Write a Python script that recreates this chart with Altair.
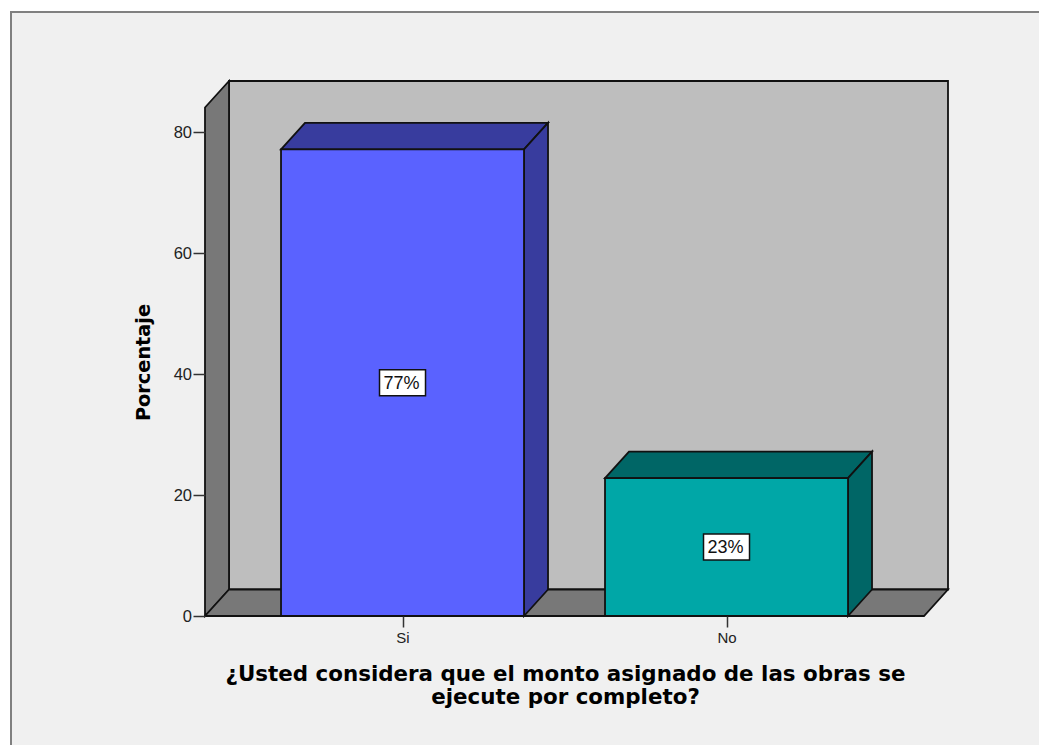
import altair as alt
import pandas as pd

categories = ["Si", "No"]
values = [77.2, 22.8]
front_colors = ["#5a62ff", "#00a7a7"]
shade_colors = ["#383c9e", "#006666"]
y_ticks = [0, 20, 40, 60, 80]

PLOT_W, PLOT_H = 743, 535
Y_MAX = 88.52
X_MIN, X_MAX = -0.6096, 1.6836
DX = 24 / 324
DY = 26.5 / 6.044
HALF = 0.375
X_FRONT_RIGHT = X_MAX - DX
Y_FRONT_TOP = Y_MAX - DY

xs = alt.Scale(domain=[X_MIN, X_MAX], nice=False, zero=False)
ys = alt.Scale(domain=[0, Y_MAX], nice=False, zero=False)
STROKE = dict(stroke="#111111", strokeWidth=1.8)

xax = alt.Axis(values=[0, 1], labelExpr="datum.value == 0 ? 'Si' : 'No'", grid=False, domain=False,
               tickSize=11, tickColor="#333333", tickWidth=1.5, labelFont="Liberation Sans",
               labelFontSize=15, labelColor="#222222", labelPadding=3, labelFlush=False,
               title=["¿Usted considera que el monto asignado de las obras se", "ejecute por completo?"],
               titleFont="DejaVu Sans", titleFontSize=21.4, titleFontWeight="bold", titleColor="#000000",
               titleX=360, titleY=64, titleLineHeight=23.5, titleAlign="center", titleBaseline="alphabetic", zindex=1)
yax = alt.Axis(values=y_ticks, grid=False, domain=False, tickSize=12, tickColor="#333333", tickWidth=1.5,
               labelFont="Liberation Sans", labelFontSize=16.5, labelColor="#222222", labelPadding=1.5,
               title="Porcentaje", titleFont="DejaVu Sans", titleFontSize=19.3, titleFontWeight="bold",
               titleColor="#000000", titleX=-52, titleY=281, titleAlign="center", zindex=1)

frame = alt.Chart(pd.DataFrame({"a": [0]})).mark_rect(fill="#f0f0f0", stroke="#808080", strokeWidth=2).encode(
    x=alt.value(-194), x2=alt.value(950), y=alt.value(-69), y2=alt.value(760))

wall = pd.DataFrame({"x": [X_MIN + DX], "x2": [X_MAX], "y": [DY], "y2": [Y_MAX]})
back = alt.Chart(wall).mark_rect(fill="#bebebe", **STROKE).encode(
    x=alt.X("x:Q", scale=xs, axis=xax), x2="x2:Q",
    y=alt.Y("y:Q", scale=ys, axis=yax), y2="y2:Q")

left = pd.DataFrame({"x": [X_MIN, X_MIN + DX], "lo": [0, DY], "hi": [Y_FRONT_TOP, Y_MAX]})
left_wall = alt.Chart(left).mark_area(fill="#787878", orient="vertical", **STROKE).encode(
    x=alt.X("x:Q", scale=xs), y=alt.Y("lo:Q", scale=ys), y2="hi:Q")

floor = pd.DataFrame({"y": [0, DY], "a": [X_MIN, X_MIN + DX], "b": [X_FRONT_RIGHT, X_MAX]})
floor_face = alt.Chart(floor).mark_area(fill="#787878", orient="horizontal", **STROKE).encode(
    y=alt.Y("y:Q", scale=ys), x=alt.X("a:Q", scale=xs), x2="b:Q")

layers = [frame, back, left_wall, floor_face]
for i, (cat, v) in enumerate(zip(categories, values)):
    top = pd.DataFrame({"y": [v, v + DY], "a": [i - HALF, i - HALF + DX], "b": [i + HALF, i + HALF + DX]})
    layers.append(alt.Chart(top).mark_area(fill=shade_colors[i], orient="horizontal", **STROKE).encode(
        y=alt.Y("y:Q", scale=ys), x=alt.X("a:Q", scale=xs), x2="b:Q"))
    side = pd.DataFrame({"x": [i + HALF, i + HALF + DX], "lo": [0, DY], "hi": [v, v + DY]})
    layers.append(alt.Chart(side).mark_area(fill=shade_colors[i], orient="vertical", **STROKE).encode(
        x=alt.X("x:Q", scale=xs), y=alt.Y("lo:Q", scale=ys), y2="hi:Q"))
    front = pd.DataFrame({"x": [i - HALF], "x2": [i + HALF], "y": [0], "y2": [v]})
    layers.append(alt.Chart(front).mark_rect(fill=front_colors[i], **STROKE).encode(
        x=alt.X("x:Q", scale=xs), x2="x2:Q", y=alt.Y("y:Q", scale=ys), y2="y2:Q"))

labels = pd.DataFrame({"x": [0, 1], "y": [v / 2 for v in values],
                       "t": [f"{round(v)}%" for v in values]})
boxes = alt.Chart(labels).mark_rect(fill="#ffffff", stroke="#111111", strokeWidth=1.5, width=46, height=26).encode(
    x=alt.X("x:Q", scale=xs), y=alt.Y("y:Q", scale=ys))
texts = alt.Chart(labels).mark_text(font="Liberation Sans", fontSize=18, color="#111111", dx=-1, dy=1).encode(
    x=alt.X("x:Q", scale=xs), y=alt.Y("y:Q", scale=ys), text="t:N")
layers += [boxes, texts]

chart = alt.layer(*layers).properties(
    width=PLOT_W, height=PLOT_H,
    autosize=alt.AutoSizeParams(type="none"),
    padding={"left": 197, "top": 73, "right": 91, "bottom": 129},
    background="#ffffff",
).configure_view(stroke=None)

chart.save("out.html", embed_options={"renderer": "svg", "actions": False})
